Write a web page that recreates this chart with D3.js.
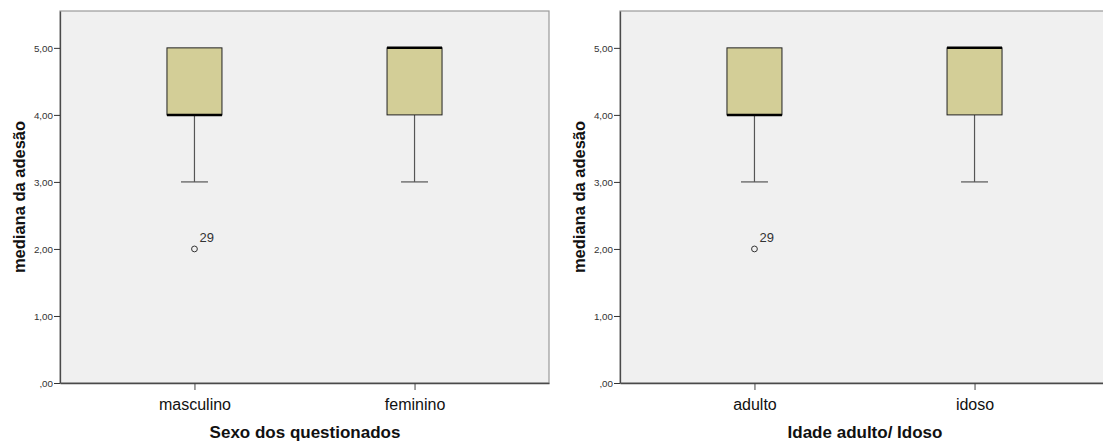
<!DOCTYPE html>
<html>
<head>
<meta charset="utf-8">
<script src="https://cdn.jsdelivr.net/npm/d3@7"></script>
<style>
  html, body { margin: 0; padding: 0; background: #ffffff; }
  svg text { font-family: Arial, "Liberation Sans", sans-serif; }
</style>
</head>
<body>
<svg id="chart" width="1103" height="444"></svg>
<script>
// Box plot summaries (min whisker, Q1, median, Q3, max whisker) per group
const sexCategories = ["masculino", "feminino"];
const sexWhiskerLow = [3, 3];
const sexQ1 = [4, 4];
const sexMedian = [4, 5];
const sexQ3 = [5, 5];
const sexWhiskerHigh = [5, 5];
const sexOutliers = [[{ value: 2, id: "29" }], []];

const ageCategories = ["adulto", "idoso"];
const ageWhiskerLow = [3, 3];
const ageQ1 = [4, 4];
const ageMedian = [4, 5];
const ageQ3 = [5, 5];
const ageWhiskerHigh = [5, 5];
const ageOutliers = [[{ value: 2, id: "29" }], []];

const yTicks = [0, 1, 2, 3, 4, 5];
const yTitle = "mediana da adesão";

const panels = [
  { left: 60, title: "Sexo dos questionados", cats: sexCategories,
    lo: sexWhiskerLow, q1: sexQ1, med: sexMedian, q3: sexQ3, hi: sexWhiskerHigh, out: sexOutliers },
  { left: 620, title: "Idade adulto/ Idoso", cats: ageCategories,
    lo: ageWhiskerLow, q1: ageQ1, med: ageMedian, q3: ageQ3, hi: ageWhiskerHigh, out: ageOutliers }
];

const svg = d3.select("#chart");
const plotTop = 11, plotBottom = 383, plotWidth = 489;
const fmt = v => (v === 0 ? "" : d3.format("d")(v)) + ",00";

const y = d3.scaleLinear().domain([0, 5.55]).range([plotBottom, plotTop]);

panels.forEach(p => {
  const g = svg.append("g");
  const x = d3.scalePoint().domain(p.cats).range([p.left, p.left + plotWidth]).padding(0.611);

  // plot area
  g.append("rect")
    .attr("x", p.left).attr("y", plotTop)
    .attr("width", plotWidth).attr("height", plotBottom - plotTop)
    .attr("fill", "#f0f0f0").attr("stroke", "#9a9a9a").attr("stroke-width", 1.2);

  // y axis
  const yAxis = d3.axisLeft(y).tickValues(yTicks).tickFormat(fmt)
    .tickSizeInner(6).tickSizeOuter(0).tickPadding(1);
  const ya = g.append("g").attr("transform", `translate(${p.left},0)`).call(yAxis);
  ya.select(".domain").attr("stroke", "#4a4a4a").attr("stroke-width", 1.3);
  ya.selectAll(".tick line").attr("stroke", "#333");
  ya.selectAll(".tick text").attr("font-size", 9.8).attr("fill", "#333").attr("dy", "0.35em");

  // x axis
  const xAxis = d3.axisBottom(x).tickSizeInner(7).tickSizeOuter(0).tickPadding(9);
  const xa = g.append("g").attr("transform", `translate(0,${plotBottom})`).call(xAxis);
  xa.select(".domain").attr("stroke", "#4a4a4a").attr("stroke-width", 1.3);
  xa.selectAll(".tick line").attr("stroke", "#444");
  xa.selectAll(".tick text").attr("font-size", 16).attr("fill", "#111");

  // axis titles
  g.append("text")
    .attr("transform", `translate(${p.left - 35},${(plotTop + plotBottom) / 2}) rotate(-90)`)
    .attr("text-anchor", "middle")
    .attr("font-size", 16.5).attr("font-weight", "bold").attr("fill", "#111")
    .text(yTitle);
  g.append("text")
    .attr("x", p.left + plotWidth / 2 + 0.5).attr("y", 438)
    .attr("text-anchor", "middle")
    .attr("font-size", 17).attr("font-weight", "bold").attr("fill", "#111")
    .text(p.title);

  const boxW = 55, capW = 27;
  p.cats.forEach((c, i) => {
    const cx = x(c);
    // lower whisker
    g.append("line").attr("x1", cx).attr("x2", cx)
      .attr("y1", y(p.q1[i])).attr("y2", y(p.lo[i]))
      .attr("stroke", "#555").attr("stroke-width", 1.2);
    g.append("line").attr("x1", cx - capW / 2).attr("x2", cx + capW / 2)
      .attr("y1", y(p.lo[i])).attr("y2", y(p.lo[i]))
      .attr("stroke", "#555").attr("stroke-width", 1.2);
    // upper whisker
    if (p.hi[i] > p.q3[i]) {
      g.append("line").attr("x1", cx).attr("x2", cx)
        .attr("y1", y(p.q3[i])).attr("y2", y(p.hi[i]))
        .attr("stroke", "#555").attr("stroke-width", 1.2);
      g.append("line").attr("x1", cx - capW / 2).attr("x2", cx + capW / 2)
        .attr("y1", y(p.hi[i])).attr("y2", y(p.hi[i]))
        .attr("stroke", "#555").attr("stroke-width", 1.2);
    }
    // box
    g.append("rect")
      .attr("x", cx - boxW / 2).attr("y", y(p.q3[i]))
      .attr("width", boxW).attr("height", y(p.q1[i]) - y(p.q3[i]))
      .attr("fill", "#d3ce97").attr("stroke", "#222").attr("stroke-width", 1);
    // median
    g.append("line").attr("x1", cx - boxW / 2).attr("x2", cx + boxW / 2)
      .attr("y1", y(p.med[i])).attr("y2", y(p.med[i]))
      .attr("stroke", "#000").attr("stroke-width", 2.5);
    // outliers
    p.out[i].forEach(o => {
      g.append("circle").attr("cx", cx).attr("cy", y(o.value)).attr("r", 2.9)
        .attr("fill", "none").attr("stroke", "#333").attr("stroke-width", 1);
      g.append("text").attr("x", cx + 5).attr("y", y(o.value) - 7)
        .attr("font-size", 13).attr("fill", "#333").text(o.id);
    });
  });
});
</script>
</body>
</html>
